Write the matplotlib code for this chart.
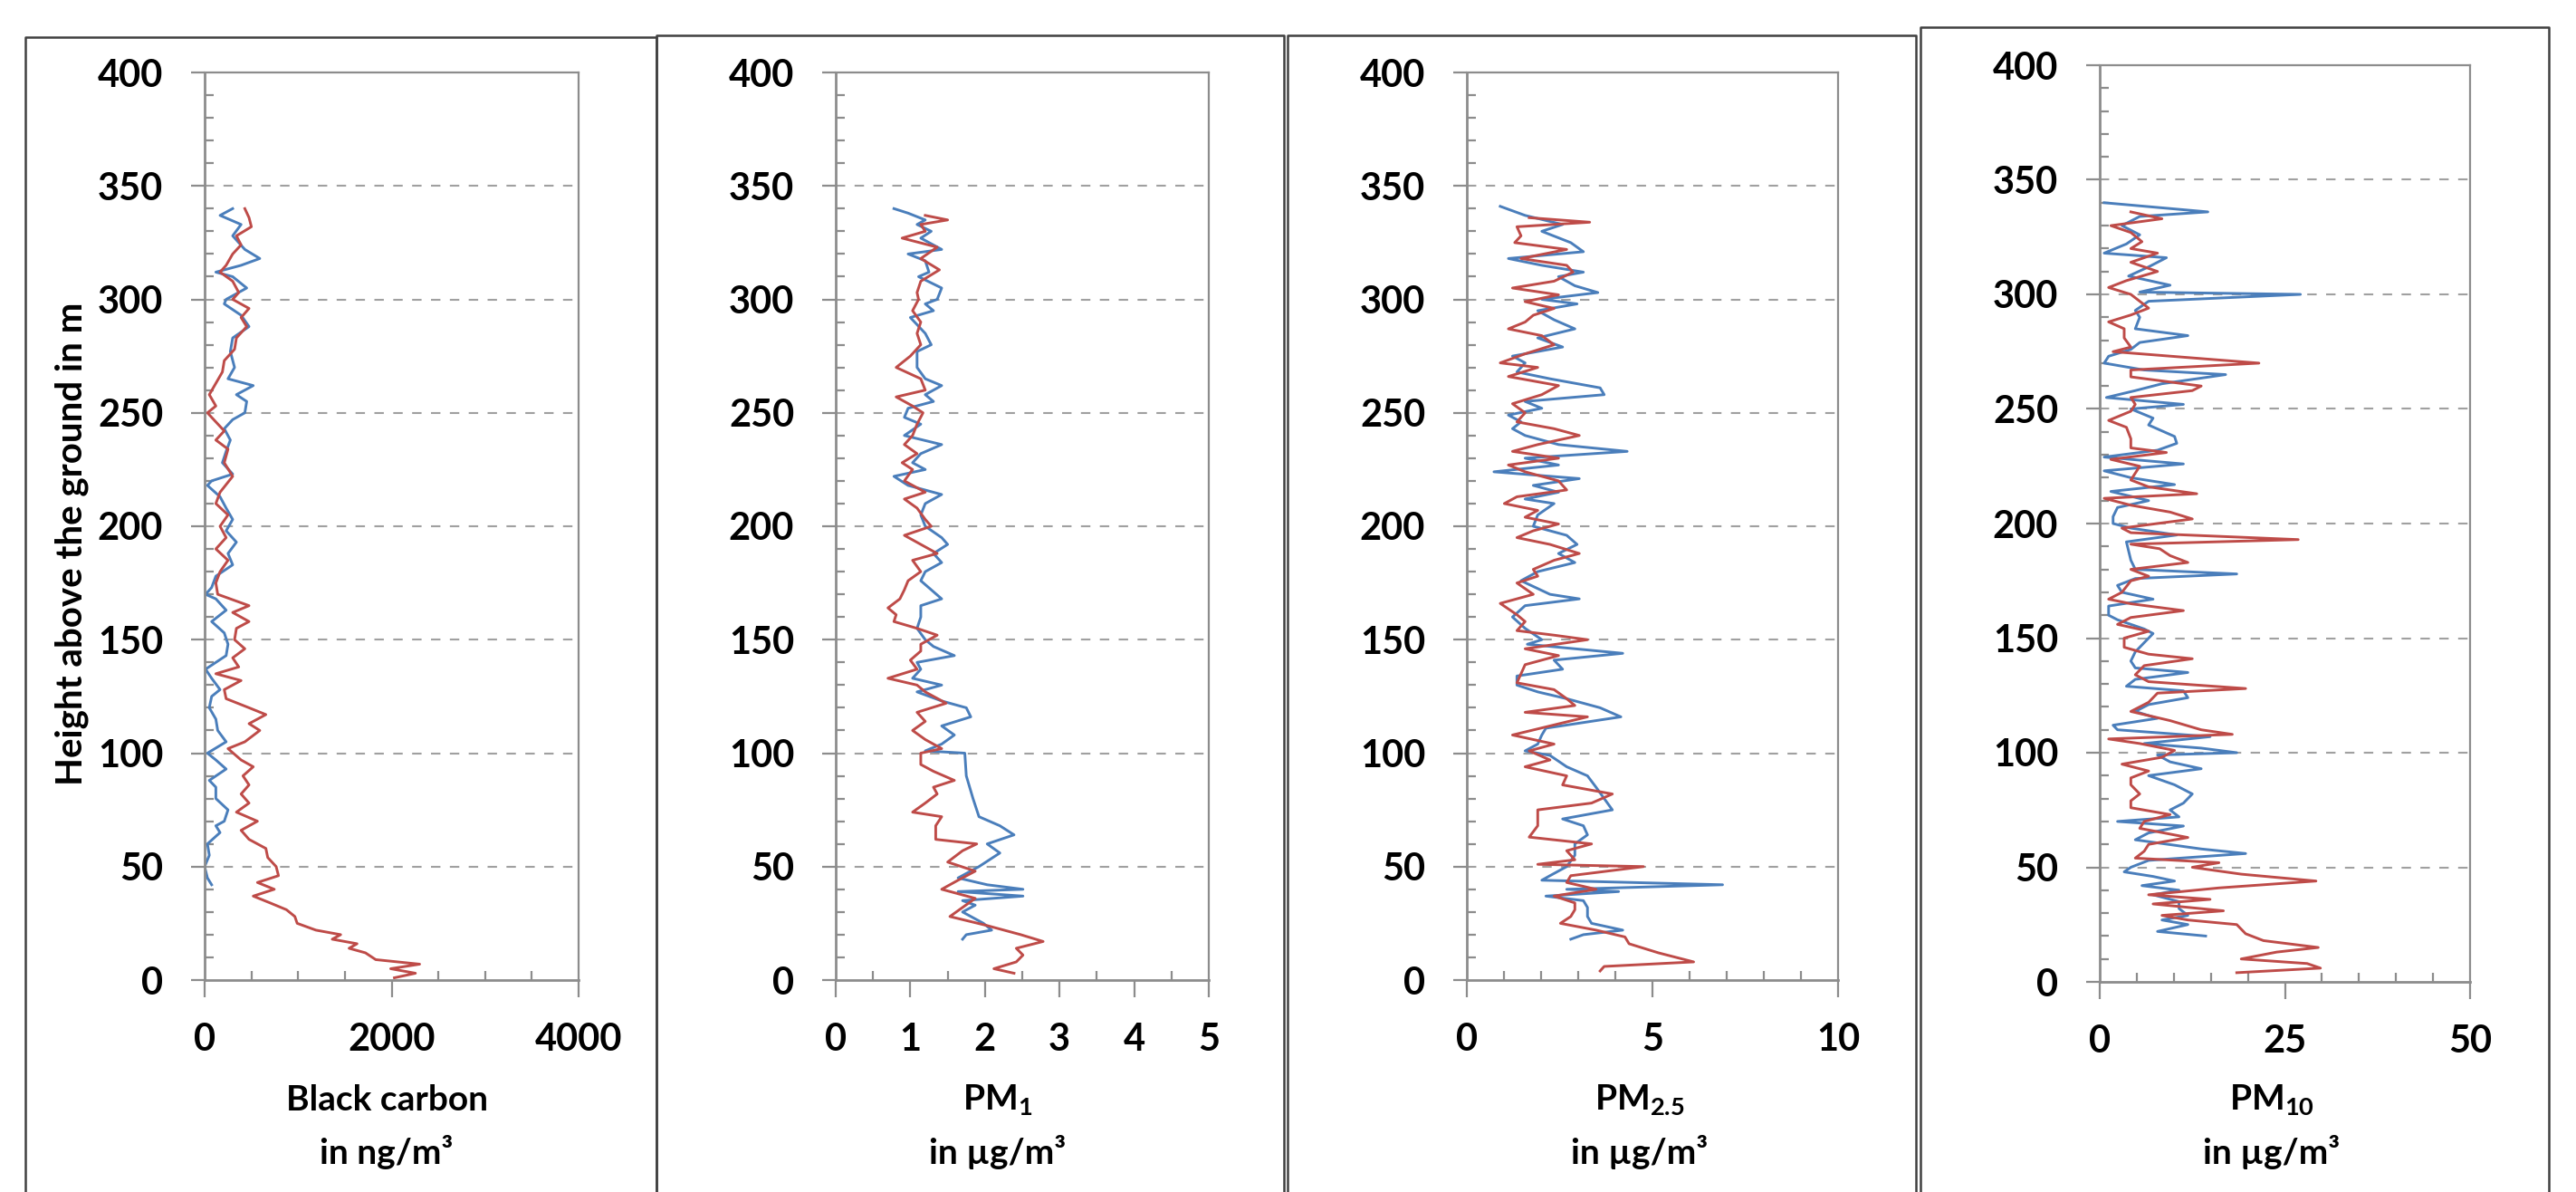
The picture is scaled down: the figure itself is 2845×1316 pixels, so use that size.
import matplotlib.pyplot as plt
from matplotlib.lines import Line2D
from matplotlib.ticker import MultipleLocator

plt.rcParams["font.family"] = ["Lato", "DejaVu Sans"]
plt.rcParams["font.weight"] = "bold"
plt.rcParams["mathtext.fontset"] = "custom"
plt.rcParams["mathtext.rm"] = "Lato:bold"
plt.rcParams["mathtext.bf"] = "Lato:bold"
plt.rcParams["mathtext.default"] = "bf"

# ---- data (height in m, concentration) ----
bc_blue_h = [340, 337, 333, 328, 322, 318, 315, 312, 310, 305, 300, 298, 293, 288, 283, 277, 270, 265,
             262, 258, 255, 250, 247, 243, 238, 233, 228, 223, 220, 218, 213, 208, 203, 198, 193, 188,
             183, 178, 173, 170, 168, 163, 158, 153, 148, 143, 140, 137, 133, 128, 125, 120, 115, 110,
             105, 100, 97, 93, 88, 85, 80, 75, 70, 68, 65, 60, 55, 50, 45, 42]
bc_blue = [300, 165, 390, 300, 430, 590, 390, 120, 300, 450, 230, 210, 390, 475, 300, 275, 320, 250,
           520, 340, 450, 430, 300, 210, 275, 230, 190, 300, 75, 30, 165, 230, 300, 230, 340, 250,
           300, 120, 75, 10, 120, 230, 75, 210, 250, 230, 120, 10, 75, 165, 75, 50, 120, 140,
           230, 30, 120, 230, 50, 120, 120, 250, 210, 120, 165, 30, 50, 0, 30, 75]
bc_red_h = [340, 336, 332, 328, 324, 320, 315, 312, 308, 303, 300, 296, 292, 288, 283, 278, 273, 268,
            263, 258, 253, 250, 246, 242, 238, 234, 228, 222, 215, 210, 205, 200, 195, 190, 185, 180,
            175, 170, 165, 162, 158, 155, 150, 146, 142, 138, 135, 132, 128, 124, 120, 117, 113, 110,
            105, 102, 97, 94, 90, 86, 82, 78, 74, 70, 66, 62, 58, 54, 50, 46, 43, 40, 37, 34, 31, 28,
            25, 22, 20, 18, 16, 14, 12, 9, 7, 5, 3, 1]
bc_red = [430, 475, 500, 340, 390, 300, 230, 165, 300, 365, 300, 475, 390, 450, 340, 320, 210, 190,
          120, 50, 120, 30, 120, 210, 120, 250, 210, 300, 165, 120, 250, 165, 230, 120, 250, 165,
          120, 140, 475, 300, 475, 340, 320, 430, 300, 365, 120, 390, 210, 230, 475, 655, 475, 590,
          430, 250, 390, 520, 410, 475, 390, 475, 340, 565, 390, 475, 655, 675, 765, 790, 565, 745,
          520, 700, 875, 965, 990, 1190, 1455, 1365, 1630, 1545, 1720, 1830, 2300, 1990, 2255, 2030]

pm1_blue_h = [340, 338, 335, 333, 330, 327, 322, 320, 317, 312, 310, 305, 300, 298, 295, 292, 285, 280,
              277, 270, 265, 262, 258, 255, 252, 248, 245, 240, 236, 232, 228, 225, 222, 218, 214, 210,
              205, 200, 195, 192, 188, 184, 180, 176, 168, 165, 160, 155, 150, 147, 143, 140, 137, 133,
              130, 127, 123, 120, 116, 112, 108, 104, 101, 100, 90, 80, 72, 68, 64, 60, 56, 50, 45, 42,
              40, 39, 37, 35, 33, 30, 25, 22, 20, 18]
pm1_blue = [0.78, 0.97, 1.20, 1.09, 1.28, 1.14, 1.42, 0.97, 1.20, 1.25, 1.11, 1.42, 1.36, 1.20, 1.31,
            1.00, 1.20, 1.28, 1.09, 1.09, 1.20, 1.42, 1.20, 1.31, 0.97, 0.92, 1.14, 0.92, 1.42, 1.14,
            1.03, 1.20, 0.78, 0.97, 1.42, 1.20, 1.14, 1.20, 1.42, 1.50, 1.31, 1.42, 1.20, 1.14, 1.42,
            1.14, 1.14, 1.09, 1.20, 1.31, 1.59, 1.09, 1.14, 1.03, 1.42, 1.09, 1.42, 1.75, 1.81, 1.42,
            1.59, 1.42, 1.20, 1.73, 1.75, 1.84, 1.92, 2.20, 2.39, 2.03, 2.20, 1.92, 1.64, 2.03, 2.51,
            1.64, 2.51, 1.70, 1.87, 1.70, 1.98, 2.09, 1.75, 1.70]
pm1_red_h = [337, 335, 333, 330, 327, 323, 318, 313, 308, 303, 300, 295, 290, 285, 280, 275, 270, 265,
             260, 257, 253, 250, 245, 240, 236, 232, 228, 225, 220, 215, 212, 208, 203, 200, 196, 192,
             188, 185, 180, 176, 172, 168, 164, 161, 158, 155, 152, 148, 145, 141, 137, 133, 130, 127,
             122, 118, 114, 110, 106, 102, 100, 95, 92, 88, 85, 82, 78, 74, 72, 68, 62, 60, 57, 52, 48,
             44, 40, 36, 32, 28, 24, 20, 17, 14, 11, 8, 5, 3]
pm1_red = [1.20, 1.50, 1.14, 1.20, 0.89, 1.36, 1.14, 1.39, 1.14, 1.09, 1.11, 1.03, 1.14, 1.09, 1.14,
           1.00, 0.81, 1.14, 1.20, 0.81, 1.03, 1.17, 1.09, 1.03, 0.92, 1.09, 0.89, 1.03, 0.92, 1.20,
           0.92, 1.09, 1.20, 1.28, 0.92, 1.14, 1.36, 1.03, 1.14, 0.97, 0.92, 0.86, 0.70, 0.81, 0.78,
           1.09, 1.36, 1.14, 1.14, 1.00, 1.09, 0.70, 1.09, 1.20, 1.48, 1.09, 1.20, 1.03, 1.20, 1.42,
           1.14, 1.14, 1.31, 1.59, 1.31, 1.36, 1.20, 1.03, 1.42, 1.34, 1.34, 1.89, 1.70, 1.50, 1.87,
           1.64, 1.42, 1.87, 1.70, 1.53, 2.03, 2.48, 2.78, 2.42, 2.51, 2.42, 2.12, 2.39]

pm25_blue_h = [341, 337, 333, 330, 325, 321, 318, 315, 312, 310, 306, 303, 300, 298, 295, 291, 287, 283,
               279, 275, 272, 268, 265, 261, 258, 255, 252, 249, 246, 243, 240, 236, 233, 230, 227, 224,
               221, 218, 215, 212, 210, 205, 200, 196, 192, 188, 184, 180, 176, 170, 168, 165, 160, 155,
               150, 148, 144, 141, 137, 134, 130, 127, 124, 120, 116, 111, 108, 104, 101, 99, 94, 90,
               85, 80, 75, 71, 68, 64, 60, 55, 50, 46, 44, 42, 40, 39, 37, 35, 32, 28, 25, 22, 20, 18]
pm25_blue = [0.90, 1.57, 2.58, 2.02, 2.80, 3.14, 1.12, 2.02, 3.14, 2.47, 2.91, 3.53, 2.02, 2.97, 1.91,
             2.35, 2.91, 1.91, 2.58, 1.23, 1.57, 1.35, 2.24, 3.59, 3.70, 1.57, 2.02, 1.12, 1.46, 1.23,
             1.57, 2.47, 4.32, 1.57, 2.47, 0.73, 3.03, 1.79, 2.47, 1.57, 2.35, 1.91, 1.79, 2.69, 2.97,
             2.47, 2.91, 1.91, 1.46, 2.24, 3.03, 1.57, 1.23, 1.57, 2.02, 1.63, 4.20, 2.35, 2.58, 1.35,
             1.35, 1.91, 2.69, 3.59, 4.15, 2.13, 2.02, 1.91, 1.57, 2.24, 2.69, 3.25, 3.48, 3.70, 3.92,
             2.58, 3.14, 3.25, 2.91, 2.91, 2.69, 2.24, 2.02, 6.89, 2.69, 4.09, 2.13, 3.14, 3.25, 3.25,
             3.36, 4.20, 3.14, 2.80]
pm25_red_h = [336, 334, 332, 328, 325, 322, 318, 315, 312, 308, 305, 302, 299, 296, 293, 290, 287, 284,
              280, 276, 272, 270, 266, 262, 258, 254, 250, 246, 243, 240, 236, 233, 230, 227, 224, 220,
              216, 213, 210, 207, 204, 201, 198, 195, 192, 188, 185, 181, 178, 175, 170, 166, 161, 158,
              154, 152, 150, 146, 143, 139, 135, 131, 128, 124, 121, 118, 116, 112, 108, 104, 101, 97,
              94, 90, 86, 82, 78, 75, 72, 68, 63, 60, 57, 53, 51, 50, 46, 43, 40, 37, 34, 31, 28, 25,
              22, 19, 16, 12, 8, 6, 4]
pm25_red = [1.68, 3.31, 1.35, 1.46, 1.29, 2.69, 1.46, 2.69, 2.86, 2.35, 1.23, 2.47, 1.57, 2.35, 1.79,
            1.57, 1.12, 2.02, 2.35, 1.57, 0.90, 1.91, 1.12, 2.47, 2.02, 1.23, 1.57, 1.35, 2.35, 3.03,
            1.91, 1.23, 2.47, 1.12, 1.57, 2.47, 2.69, 1.35, 1.01, 1.91, 1.57, 2.47, 1.79, 1.35, 2.24,
            3.03, 2.35, 1.79, 1.91, 1.35, 1.79, 0.90, 1.35, 1.57, 1.35, 2.35, 3.25, 1.57, 2.47, 1.57,
            1.46, 1.35, 2.35, 2.69, 2.91, 1.57, 3.25, 2.24, 1.23, 2.35, 1.68, 2.24, 1.57, 2.69, 2.58,
            3.92, 3.36, 1.91, 1.91, 1.91, 1.68, 3.36, 2.69, 2.91, 1.91, 4.76, 2.80, 2.69, 3.48, 2.35,
            2.91, 2.91, 2.80, 2.52, 3.48, 4.26, 4.37, 5.16, 6.11, 3.70, 3.59]

pm10_blue_h = [340, 336, 334, 330, 326, 322, 318, 316, 312, 308, 304, 301, 300, 297, 293, 290, 285, 282,
               279, 276, 273, 270, 267, 265, 261, 258, 255, 252, 250, 246, 243, 238, 235, 232, 229, 226,
               223, 220, 217, 214, 210, 207, 203, 200, 198, 195, 192, 188, 184, 180, 178, 176, 173, 170,
               167, 164, 160, 158, 154, 152, 148, 144, 140, 137, 135, 132, 129, 127, 124, 121, 118, 115,
               112, 110, 107, 104, 102, 100, 99, 96, 93, 90, 86, 82, 78, 75, 72, 70, 68, 65, 62, 58, 56,
               53, 50, 48, 46, 44, 42, 40, 38, 35, 32, 29, 27, 25, 22, 20]
pm10_blue = [0.6, 14.6, 5.4, 3.0, 5.4, 3.6, 0.6, 9.0, 6.6, 3.9, 9.5, 5.4, 27.1, 6.6, 4.8, 5.4, 4.8, 11.9,
             5.4, 4.2, 1.2, 0.6, 6.0, 17.0, 8.4, 4.8, 0.9, 11.3, 4.2, 7.2, 6.6, 10.1, 10.4, 7.8, 0.6,
             11.3, 0.6, 4.2, 10.1, 1.5, 6.6, 2.4, 1.8, 1.8, 4.2, 10.4, 3.6, 3.9, 4.2, 4.8, 18.5, 4.8,
             2.4, 3.0, 7.2, 1.2, 1.2, 2.4, 6.0, 7.2, 6.0, 4.8, 4.2, 4.8, 11.9, 4.8, 3.6, 11.3, 11.9,
             6.6, 4.8, 7.8, 1.8, 2.4, 14.9, 6.0, 13.7, 18.5, 7.8, 9.5, 13.7, 6.6, 10.1, 12.5, 11.3, 9.5,
             10.7, 2.4, 11.3, 6.6, 4.8, 13.7, 19.7, 6.6, 4.2, 3.3, 7.2, 10.1, 5.7, 10.7, 7.2, 10.7,
             10.7, 11.9, 8.4, 11.9, 7.8, 14.3]
pm10_red_h = [336, 333, 330, 327, 323, 320, 318, 314, 310, 306, 303, 300, 297, 294, 291, 288, 285, 281,
              277, 275, 270, 267, 264, 260, 258, 255, 252, 249, 245, 242, 237, 233, 231, 228, 225, 222,
              219, 216, 213, 211, 208, 205, 202, 198, 196, 193, 191, 189, 186, 183, 180, 177, 175, 170,
              167, 165, 162, 159, 156, 153, 150, 146, 143, 141, 138, 134, 131, 128, 126, 122, 118, 114,
              110, 108, 106, 104, 101, 98, 95, 92, 89, 86, 82, 79, 76, 73, 70, 67, 63, 60, 57, 54, 52,
              50, 47, 44, 41, 38, 36, 34, 31, 29, 27, 25, 21, 18, 15, 13, 10, 8, 6, 4]
pm10_red = [4.2, 8.4, 1.5, 4.2, 5.7, 4.2, 7.8, 4.2, 7.8, 3.6, 1.2, 4.2, 5.4, 6.6, 4.2, 1.2, 3.3, 3.3,
            4.2, 1.8, 21.5, 4.2, 4.2, 13.7, 12.5, 4.2, 4.8, 4.2, 1.2, 3.6, 4.2, 4.2, 9.0, 1.5, 5.4, 4.8,
            4.2, 6.6, 13.1, 0.6, 4.2, 9.5, 12.5, 3.0, 4.2, 26.8, 4.2, 8.1, 9.5, 11.9, 4.2, 6.6, 4.2, 3.0,
            1.2, 4.2, 11.3, 4.2, 2.4, 6.6, 3.3, 3.3, 6.6, 12.5, 6.0, 4.8, 6.6, 19.7, 7.8, 6.6, 4.2, 9.5,
            13.7, 17.9, 1.2, 5.4, 10.1, 8.4, 3.0, 6.6, 4.2, 4.2, 5.4, 4.2, 4.2, 9.5, 6.0, 5.4, 11.9,
            6.6, 6.0, 4.8, 16.1, 12.5, 19.1, 29.2, 16.1, 6.6, 14.9, 7.2, 16.7, 8.4, 11.9, 18.5, 19.7,
            22.1, 29.5, 23.9, 19.1, 28.0, 29.8, 18.5]

x_limits = [4000, 5, 10, 50]
x_major = [2000, 1, 5, 25]
x_minor = [500, 0.5, 1, 5]
label_top = ["Black carbon", "PM$_{1}$", "PM$_{2.5}$", "PM$_{10}$"]
label_bottom = ["in ng/m³", "in µg/m³", "in µg/m³", "in µg/m³"]

W, H = 2845, 1316
BLUE = "#4a7ebb"
RED = "#be4b48"
GRAY = "#8c8c8c"

fig = plt.figure(figsize=(W / 100, H / 100), dpi=100)


def fx(px):
    return px / W


def fy(py):
    return 1 - py / H


# panel frames (left, top, right) in pixels, they run off the bottom edge
frames = [(28, 41, 725), (725, 39, 1418), (1422, 39, 2116), (2121, 30, 2815)]
for l, t, r in frames:
    fig.add_artist(Line2D([fx(l), fx(l), fx(r), fx(r)], [fy(H + 20), fy(t), fy(t), fy(H + 20)],
                          transform=fig.transFigure, color="#404040", lw=1.8))

# axes boxes (left, top, right, bottom) in pixels
boxes = [(226, 80, 639, 1082), (923, 80, 1335, 1082), (1620, 80, 2030, 1082), (2319, 72, 2728, 1084)]
label_x = [427, 1102, 1811, 2509]

series = [
    (bc_blue_h, bc_blue, bc_red_h, bc_red),
    (pm1_blue_h, pm1_blue, pm1_red_h, pm1_red),
    (pm25_blue_h, pm25_blue, pm25_red_h, pm25_red),
    (pm10_blue_h, pm10_blue, pm10_red_h, pm10_red),
]

for i, (l, t, r, b) in enumerate(boxes):
    ax = fig.add_axes([fx(l), fy(b), fx(r - l), (b - t) / H])
    hb, vb, hr, vr = series[i]
    ax.plot(vb, hb, color=BLUE, lw=2.1)
    ax.plot(vr, hr, color=RED, lw=2.1)

    ax.set_xlim(0, x_limits[i])
    ax.set_ylim(0, 400)
    ax.xaxis.set_major_locator(MultipleLocator(x_major[i]))
    ax.xaxis.set_minor_locator(MultipleLocator(x_minor[i]))
    ax.yaxis.set_major_locator(MultipleLocator(50))
    ax.yaxis.set_minor_locator(MultipleLocator(10))

    for sp in ax.spines.values():
        sp.set_color(GRAY)
        sp.set_linewidth(1.6)
    ax.spines["left"].set_linewidth(2)
    ax.spines["bottom"].set_linewidth(2)

    ax.tick_params(axis="x", which="major", direction="out", length=14, width=1.6, color=GRAY,
                   labelsize=30, pad=20)
    ax.tick_params(axis="y", which="major", direction="out", length=11, width=1.6, color=GRAY,
                   labelsize=30, pad=22)
    ax.tick_params(which="minor", direction="in", length=7, width=1.6, color=GRAY)
    ax.tick_params(which="minor", right=False, top=False)

    for yv in range(50, 400, 50):
        ax.axhline(yv, color="#a0a0a0", lw=1.5, ls=(0, (5, 5)), zorder=0)

    fig.text(fx(label_x[i]), fy(1214), label_top[i], ha="center", va="center", fontsize=28,
             fontweight="bold")
    fig.text(fx(label_x[i]), fy(1272), label_bottom[i], ha="center", va="center", fontsize=28,
             fontweight="bold")

fig.text(fx(79), fy(600), "Height above the ground in m", rotation=90, ha="center", va="center",
         fontsize=29, fontweight="bold")

fig.savefig("out.png", dpi=100, facecolor="white")
